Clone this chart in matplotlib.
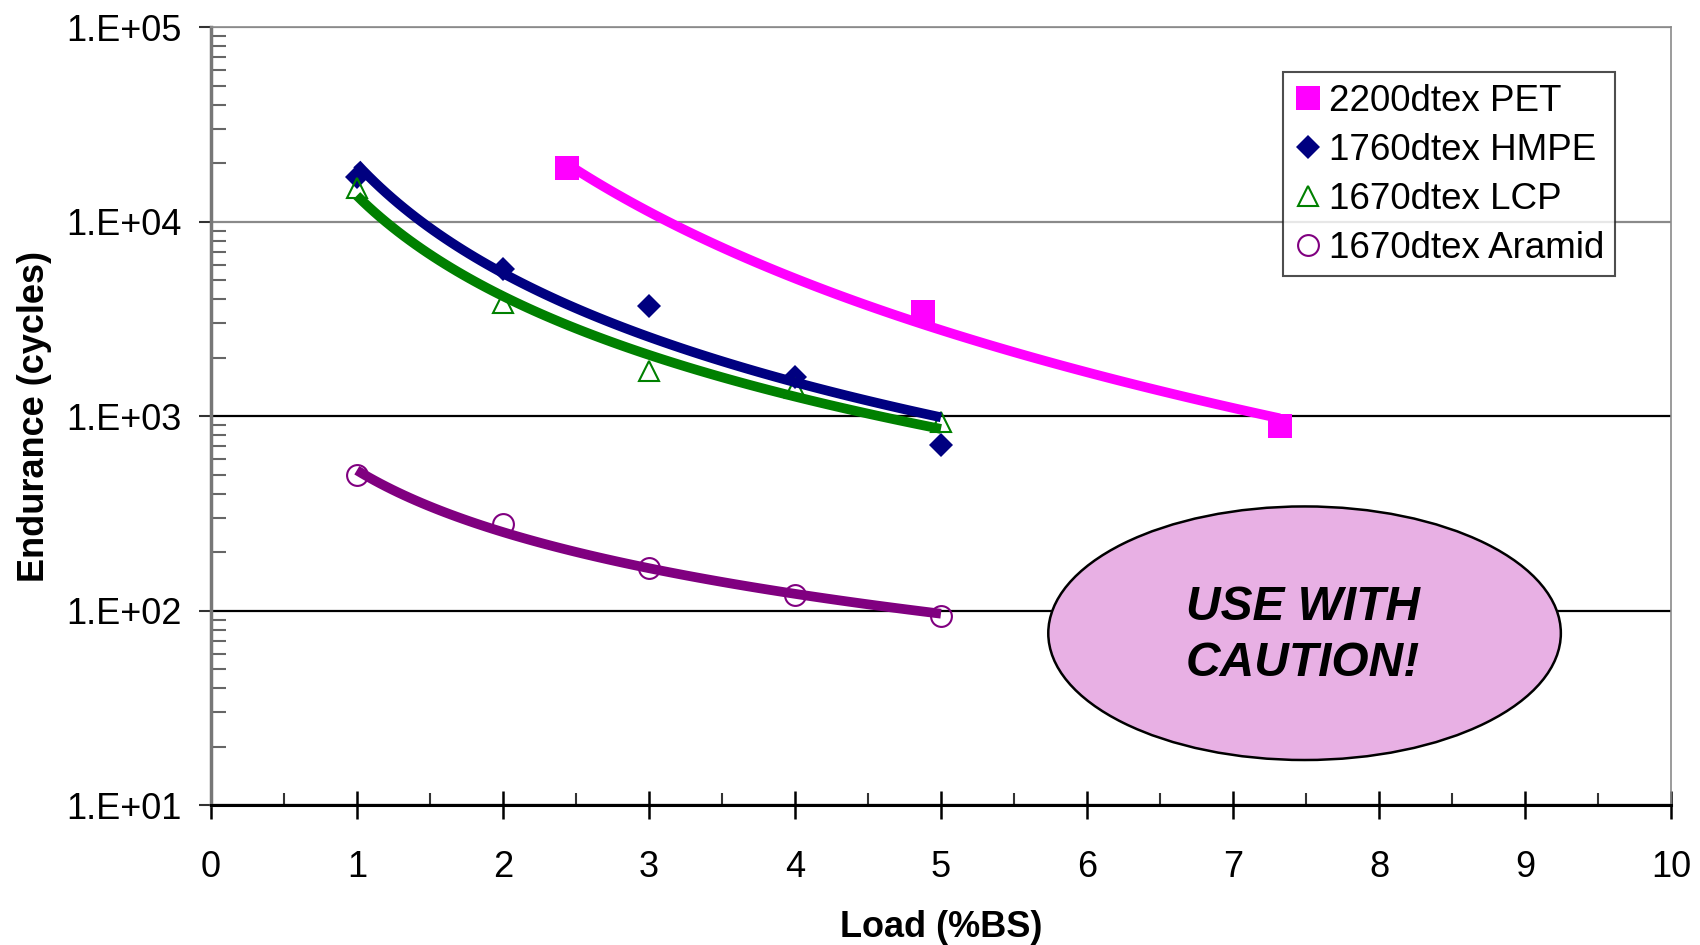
"""
Endurance vs load for yarn types, log scale with power trendlines.
"""
import numpy as np
import matplotlib
matplotlib.use("Agg")
import matplotlib.pyplot as plt
from matplotlib import ticker
from matplotlib.patches import Ellipse

plt.rcParams['font.family'] = ['Liberation Sans', 'DejaVu Sans']

# data
pet_load = [2.44, 4.88, 7.32]
pet_cycles = [18800, 3430, 890]

hmpe_load = [1, 2, 3, 4, 5]
hmpe_cycles = [17000, 5700, 3700, 1600, 710]

lcp_load = [1, 2, 3, 4, 5]
lcp_cycles = [15000, 3800, 1710, 1400, 930]

aramid_load = [1, 2, 3, 4, 5]
aramid_cycles = [500, 280, 165, 120, 94]

labels = ["2200dtex PET", "1760dtex HMPE", "1670dtex LCP", "1670dtex Aramid"]
y_ticks = [1e1, 1e2, 1e3, 1e4, 1e5]
x_ticks = list(range(0, 11))


def power_trend(x, y, n=100):
    # excel style power trendline: log-log least squares
    b, loga = np.polyfit(np.log(x), np.log(y), 1)
    xs = np.linspace(min(x), max(x), n)
    return xs, np.exp(loga) * xs ** b


fig = plt.figure(figsize=(17, 9.451), dpi=100)
ax = fig.add_axes([0.124, 0.148, 0.859, 0.823])

series = [
    (pet_load, pet_cycles, "#FF00FF", dict(marker="s", ms=17, mfc="#FF00FF", mec="#FF00FF", mew=0)),
    (hmpe_load, hmpe_cycles, "#000080", dict(marker="D", ms=12, mfc="#000080", mec="#000080", mew=0)),
    (lcp_load, lcp_cycles, "#008000", dict(marker="^", ms=15, mfc="none", mec="#008000", mew=1.5)),
    (aramid_load, aramid_cycles, "#800080", dict(marker="o", ms=15, mfc="none", mec="#800080", mew=1.5)),
]

for (x, y, col, mk), lab in zip(series, labels):
    ax.plot(x, y, ls="none", label=lab, zorder=3, **mk)
for x, y, col, mk in series[::-1]:
    xs, ys = power_trend(x, y)
    ax.plot(xs, ys, color=col, lw=7, solid_capstyle="butt", zorder=4)

ax.set_yscale("log")
ax.set_xlim(0, 10)
ax.set_ylim(1e1, 1e5)
ax.set_xticks(x_ticks)
ax.xaxis.set_minor_locator(ticker.MultipleLocator(0.5))
ax.set_yticks(y_ticks)
ax.yaxis.set_minor_locator(ticker.LogLocator(base=10, subs=np.arange(2, 10)))
ax.yaxis.set_minor_formatter(ticker.NullFormatter())
ax.yaxis.set_major_formatter(ticker.FuncFormatter(
    lambda v, pos: "1.E+{:02d}".format(int(round(np.log10(v))))))

ax.tick_params(axis="both", labelsize=26)
ax.tick_params(axis="y", which="major", direction="out", length=9, width=1.5,
               color="#333333", pad=12)
ax.tick_params(axis="y", which="minor", direction="in", length=11, width=1.5,
               color="#666666")
ax.tick_params(axis="x", which="major", direction="inout", length=20, width=1.8,
               color="black", pad=22)
ax.tick_params(axis="x", which="minor", direction="in", length=9, width=1.5,
               color="#333333")

ax.grid(axis="y", which="major", color="black", lw=1.6)
for gl, c in zip(ax.yaxis.get_gridlines(), ["black", "black", "black", "#8a8a8a", "#8a8a8a"]):
    gl.set_color(c)
ax.set_axisbelow(True)

ax.spines["left"].set_color("#777777")
ax.spines["left"].set_linewidth(2.5)
ax.spines["bottom"].set_color("black")
ax.spines["bottom"].set_linewidth(2.2)
ax.spines["right"].set_color("#8a8a8a")
ax.spines["right"].set_linewidth(1.2)
ax.spines["top"].set_color("#8a8a8a")
ax.spines["top"].set_linewidth(1.2)

ax.set_xlabel("Load (%BS)", fontsize=26, fontweight="bold", labelpad=18)
ax.set_ylabel("Endurance (cycles)", fontsize=26, fontweight="bold", labelpad=10)

leg = ax.legend(loc="upper left", bbox_to_anchor=(0.734, 0.942), fontsize=26.5,
                frameon=True, fancybox=False, edgecolor="#222222",
                handlelength=0.8, handletextpad=0.15, borderpad=0.3,
                labelspacing=0.38, borderaxespad=0, markerscale=1.0)
leg.get_frame().set_linewidth(1.5)

ell = Ellipse((0.749, 0.221), 0.351, 0.326, transform=ax.transAxes,
              facecolor="#E8B0E4", edgecolor="black", lw=1.8, zorder=5)
ax.add_patch(ell)
ax.text(0.748, 0.218, "USE WITH\nCAUTION!", transform=ax.transAxes,
        ha="center", va="center", fontsize=34.5, fontweight="bold",
        fontstyle="italic", linespacing=1.3, zorder=6)

fig.savefig("out.png", dpi=100)
